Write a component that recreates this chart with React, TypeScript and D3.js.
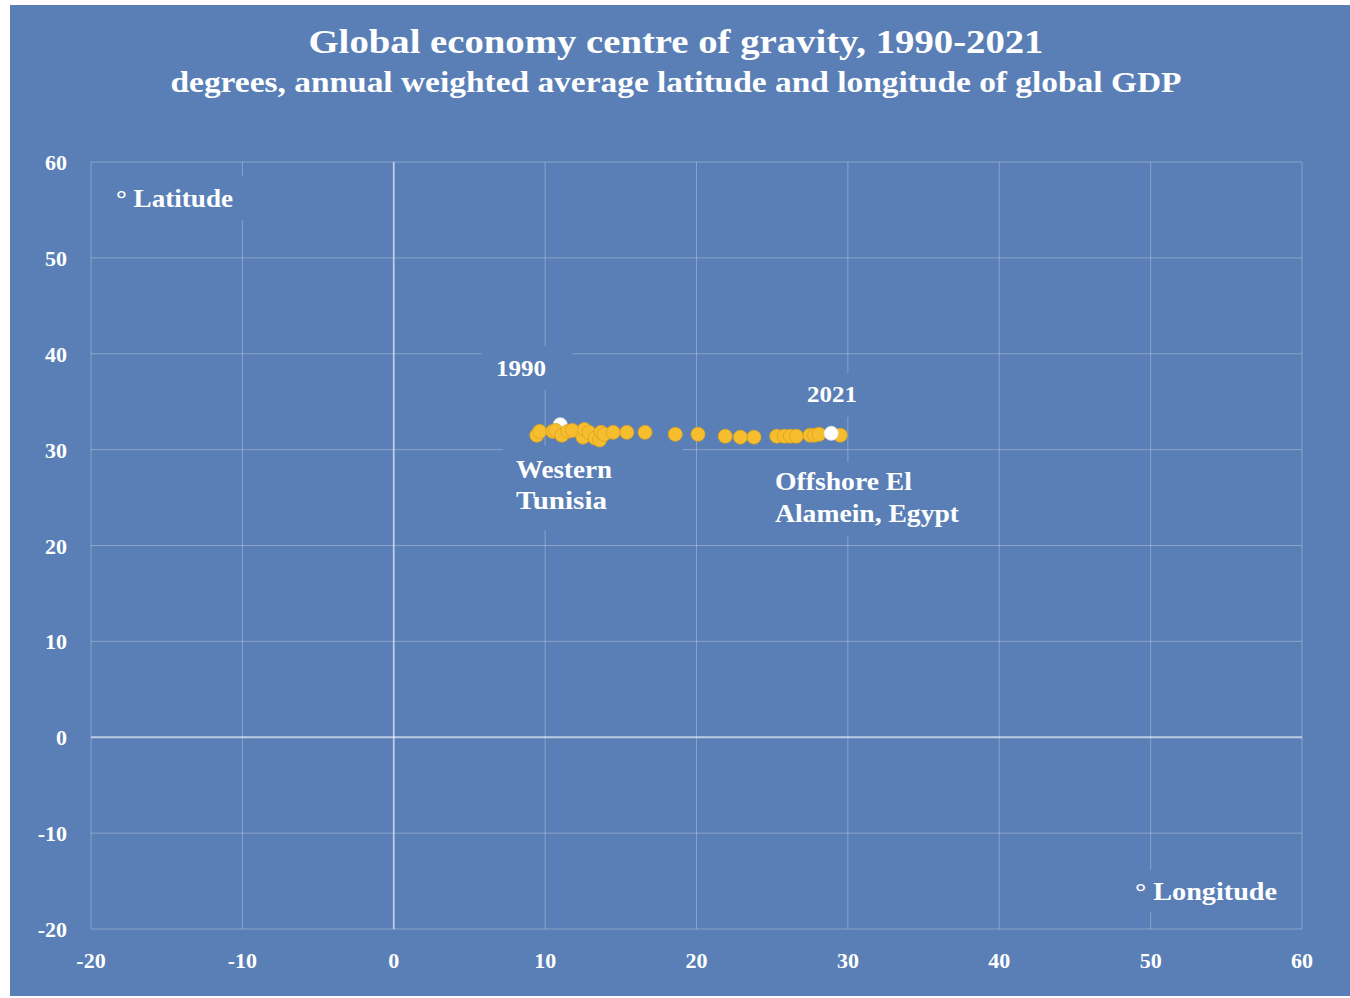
import React from "react";
import * as d3 from "d3";

const years = [1990,1991,1992,1993,1994,1995,1996,1997,1998,1999,2000,2001,2002,2003,2004,2005,2006,2007,2008,2009,2010,2011,2012,2013,2014,2015,2016,2017,2018,2019,2020,2021];
const longitude = [11.0,9.45,9.64,10.5,10.7,11.1,11.5,11.8,12.5,12.6,12.9,13.3,13.6,13.7,13.9,14.5,15.4,16.6,18.6,20.1,21.9,22.9,23.8,25.3,25.8,26.2,26.6,27.5,27.8,28.1,29.5,28.9];
const latitude = [32.6,31.5,31.9,31.9,32.0,31.5,31.9,32.0,31.3,32.1,31.8,31.2,31.0,31.8,31.6,31.8,31.8,31.8,31.6,31.6,31.4,31.3,31.3,31.4,31.4,31.4,31.4,31.5,31.5,31.6,31.5,31.7];
const xTicks = [-20,-10,0,10,20,30,40,50,60];
const yTicks = [-20,-10,0,10,20,30,40,50,60];

const title = "Global economy centre of gravity, 1990-2021";
const subtitle = "degrees, annual weighted average latitude and longitude of global GDP";

const W = 1350, H = 998;
const BG = "#5A7FB6";
const FONT = "'Liberation Serif', 'DejaVu Serif', serif";

export default function App() {
  const x = d3.scaleLinear().domain([-20, 60]).range([91, 1302]);
  const y = d3.scaleLinear().domain([-20, 60]).range([929, 162]);
  const pts = years.map((yr, i) => ({ yr, lon: longitude[i], lat: latitude[i] }));
  const first = years[0], last = years[years.length - 1];
  const T = { fill: "#fff", fontFamily: FONT, fontWeight: "bold" as const, lengthAdjust: "spacingAndGlyphs" };

  return (
    <div style={{ position: "absolute", left: 0, top: 0 }}>
      <svg width={W} height={H} style={{ display: "block" }}>
        <rect x={0} y={0} width={W} height={H} fill="#ffffff" />
        <rect x={10} y={5} width={W - 10} height={H - 7} fill={BG} />
        <text x={676} y={53} textAnchor="middle" {...T} fontSize={34} textLength={735}>{title}</text>
        <text x={676} y={92} textAnchor="middle" {...T} fontSize={29} textLength={1011}>{subtitle}</text>

        {/* gridlines */}
        {xTicks.map(t => (
          <line key={"gx" + t} x1={x(t)} x2={x(t)} y1={y(60)} y2={y(-20)}
            stroke="#ffffff" strokeOpacity={t === 0 ? 0.6 : 0.28} strokeWidth={t === 0 ? 1.8 : 1} />
        ))}
        {yTicks.map(t => (
          <line key={"gy" + t} x1={x(-20)} x2={x(60)} y1={y(t)} y2={y(t)}
            stroke="#ffffff" strokeOpacity={t === 0 ? 0.6 : 0.28} strokeWidth={t === 0 ? 1.8 : 1} />
        ))}

        {/* tick labels */}
        {yTicks.map(t => (
          <text key={"ly" + t} x={67} y={y(t) + 8} textAnchor="end" fill="#fff" fontFamily={FONT} fontWeight="bold" fontSize={22}>{t}</text>
        ))}
        {xTicks.map(t => (
          <text key={"lx" + t} x={x(t)} y={968} textAnchor="middle" fill="#fff" fontFamily={FONT} fontWeight="bold" fontSize={22}>{t}</text>
        ))}

        {/* label boxes hiding gridlines */}
        <rect x={105} y={176} width={145} height={44} fill={BG} />
        <rect x={1125} y={870} width={165} height={42} fill={BG} />
        <rect x={482} y={346} width={90} height={44} fill={BG} />
        <rect x={792} y={373} width={82} height={44} fill={BG} />
        <rect x={503} y={446} width={180} height={84} fill={BG} />
        <rect x={765} y={462} width={205} height={74} fill={BG} />

        {/* annotations */}
        <text x={116} y={207} {...T} fontSize={25} textLength={117}>° Latitude</text>
        <text x={1135} y={900} {...T} fontSize={25} textLength={142}>° Longitude</text>
        <text x={496} y={376} {...T} fontSize={23} textLength={50}>1990</text>
        <text x={807} y={402} {...T} fontSize={23} textLength={50}>2021</text>
        <text x={516} y={478} {...T} fontSize={25} textLength={96}>Western</text>
        <text x={516} y={509} {...T} fontSize={25} textLength={91}>Tunisia</text>
        <text x={775} y={490} {...T} fontSize={25} textLength={137}>Offshore El</text>
        <text x={775} y={522} {...T} fontSize={25} textLength={184}>Alamein, Egypt</text>

        {/* points */}
        {pts.map(p => {
          const special = p.yr === first || p.yr === last;
          return (
            <circle key={p.yr} cx={x(p.lon)} cy={y(p.lat)} r={7}
              fill={special ? "#ffffff" : "#F6BE2E"}
              stroke={special ? "#e8e8e8" : "#D9A21E"} strokeWidth={0.8} />
          );
        })}
      </svg>
    </div>
  );
}
